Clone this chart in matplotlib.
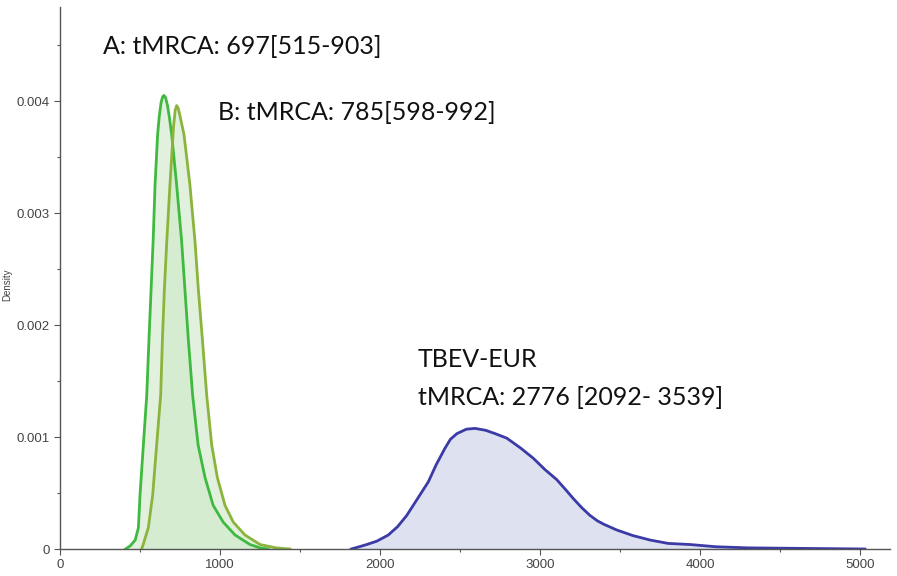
import matplotlib
matplotlib.use("Agg")
import matplotlib.pyplot as plt
from matplotlib.ticker import MultipleLocator, FuncFormatter

# Curve A (bright green)
a_x = [410, 440, 470, 490, 500, 521, 542, 556, 569, 582, 594, 610, 620, 632, 642, 650,
       660, 672, 685, 698, 729, 760, 781, 802, 829, 863, 906, 957, 1020, 1094, 1187, 1250, 1300]
a_y = [0, 0.00003, 0.00008, 0.00019, 0.00048, 0.00093, 0.00137, 0.00187, 0.00231, 0.00275,
       0.00325, 0.0037, 0.00386, 0.00399, 0.00404, 0.00405, 0.00403, 0.00396, 0.00384, 0.0037,
       0.00325, 0.00275, 0.00231, 0.00187, 0.00137, 0.00093, 0.00064, 0.00039, 0.00024,
       0.000125, 0.00004, 0.00001, 0]

# Curve B (olive green)
b_x = [510, 520, 552, 579, 604, 629, 640, 652, 667, 687, 700, 710, 720, 729, 738, 748, 760, 775,
       812, 844, 865, 890, 917, 948, 983, 1031, 1083, 1156, 1250, 1350, 1437]
b_y = [0, 0.00004, 0.00019, 0.00048, 0.00093, 0.00137, 0.00187, 0.00231, 0.00274, 0.00325,
       0.00355, 0.00378, 0.00392, 0.00396, 0.00394, 0.00388, 0.0038, 0.0037, 0.00325, 0.00274,
       0.00231, 0.00187, 0.00137, 0.00093, 0.00064, 0.00039, 0.00024, 0.000125, 0.00004,
       0.00001, 0]

# TBEV-EUR (blue)
c_x = [1820, 1870, 1917, 1980, 2052, 2110, 2167, 2230, 2302, 2350, 2406, 2440, 2480, 2540,
       2594, 2660, 2720, 2792, 2880, 2958, 3030, 3104, 3160, 3208, 3260, 3312, 3360, 3400,
       3479, 3580, 3688, 3800, 3937, 4100, 4300, 5030]
c_y = [0, 0.00002, 0.00004, 0.00007, 0.000125, 0.0002, 0.0003, 0.00044, 0.0006, 0.00075,
       0.0009, 0.00098, 0.00103, 0.00107, 0.001077, 0.00106, 0.00103, 0.00099, 0.0009,
       0.00081, 0.00071, 0.00062, 0.00053, 0.00045, 0.00037, 0.0003, 0.00025, 0.00022,
       0.00017, 0.00012, 0.00008, 0.00005, 0.00004, 0.00002, 0.00001, 0]

labels = ["A: tMRCA: 697[515-903]", "B: tMRCA: 785[598-992]",
          "TBEV-EUR", "tMRCA: 2776 [2092- 3539]"]

fig = plt.figure(figsize=(8.97, 5.76), dpi=100)
ax = fig.add_axes([60/897, 27/576, 830/897, 542/576])

green_a = "#3fb940"
green_b = "#8bb43c"
blue = "#3b3aa6"

ax.fill_between(a_x, a_y, color="#cfe9c9", alpha=0.6, lw=0)
ax.fill_between(b_x, b_y, color="#cfe9c9", alpha=0.6, lw=0)
ax.fill_between(c_x, c_y, color="#dde1f0", lw=0)
ax.plot(a_x, a_y, color=green_a, lw=2.0, solid_joinstyle="round")
ax.plot(b_x, b_y, color=green_b, lw=2.0, solid_joinstyle="round")
ax.plot(c_x, c_y, color=blue, lw=2.0, solid_joinstyle="round")

ax.set_xlim(0, 5187)
ax.set_ylim(0, 0.00484)
for s in ["top", "right"]:
    ax.spines[s].set_visible(False)
for s in ["left", "bottom"]:
    ax.spines[s].set_color("#555555")
    ax.spines[s].set_linewidth(1.0)

ax.xaxis.set_major_locator(MultipleLocator(1000))
ax.xaxis.set_minor_locator(MultipleLocator(500))
ax.yaxis.set_major_locator(MultipleLocator(0.001))
ax.yaxis.set_minor_locator(MultipleLocator(0.0005))
ax.yaxis.set_major_formatter(FuncFormatter(lambda v, p: "0" if v == 0 else f"{v:.3f}"))
ax.tick_params(which="major", length=4, width=0.8, color="#555555",
               labelsize=9.5, labelcolor="#444444")
ax.tick_params(which="minor", length=2.5, width=0.8, color="#555555")
for t in ax.get_xticklabels() + ax.get_yticklabels():
    t.set_family("Liberation Sans")

ax.set_ylabel("Density", fontsize=7, color="#444444", family="Liberation Sans")
ax.yaxis.set_label_coords(-0.058, 0.487)

tf = dict(fontsize=18, family="Lato", color="#111111", va="center", ha="left")
ax.text(269, 0.00449, labels[0], **tf)
ax.text(987, 0.00390, labels[1], **tf)
ax.text(2237, 0.00169, labels[2], **tf)
ax.text(2237, 0.001357, labels[3], **tf)

fig.savefig("out.png", dpi=100)
